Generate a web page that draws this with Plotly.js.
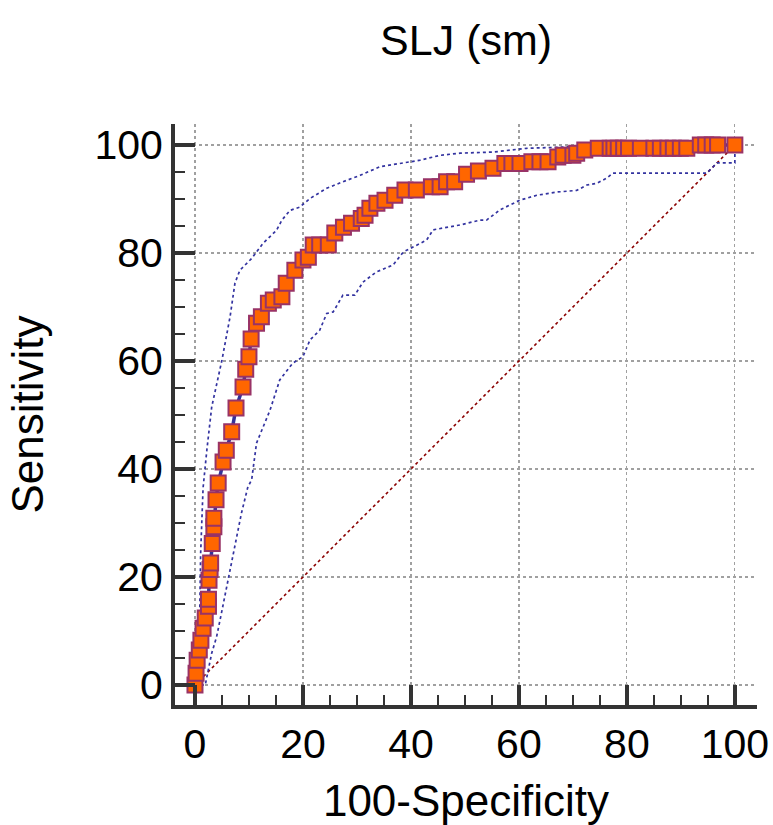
<!DOCTYPE html>
<html>
<head>
<meta charset="utf-8">
<script src="https://cdn.plot.ly/plotly-3.0.1.min.js"></script>
<style>html,body{margin:0;padding:0;background:#fff;}#chart{width:773px;height:825px;}</style>
</head>
<body>
<div id="chart"></div>
<script>
// ROC curve points (100-Specificity, Sensitivity)
const rocX = [0,0.2,0.4,0.8,1.1,1.5,1.9,2.5,2.5,2.6,2.8,2.9,3.2,3.5,3.5,3.9,4.3,5.2,5.8,6.8,7.6,8.9,9.4,10.0,10.4,11.4,12.3,13.6,14.5,16.1,16.9,18.5,20,21,21.9,23.1,24.7,25.9,27.5,29,30.8,31.5,32.4,33.7,35.2,37,38.9,41,43.8,45.4,46.6,48.1,50.3,52.5,55.2,57.4,58.7,60.2,62.4,63.9,65.4,67.2,68.2,70,70.7,72.2,74.7,76.9,77.6,78.4,79.4,80.3,82.5,85,86.2,87.6,88.6,89.9,91.1,93.6,94.6,95.8,96.8,100];
const rocY = [0,2.2,4.6,6.5,8.3,10.5,12.4,14.6,15.9,19.4,21.4,22.6,26.2,29.3,30.9,34.3,37.4,41.3,43.5,46.9,51.3,55.2,58.5,60.8,64.1,67.0,68.2,70.7,71.3,71.9,74.4,76.8,78.7,79.2,81.5,81.5,81.5,83.7,84.8,85.5,86.4,87,88.3,89.2,89.8,90.7,91.7,91.7,92.3,92.3,93.2,93.2,94.6,95.2,95.7,96.6,96.6,96.6,96.9,96.9,96.9,97.8,98.1,98.1,98.5,99.1,99.4,99.4,99.4,99.4,99.4,99.4,99.4,99.4,99.4,99.4,99.4,99.4,99.4,100,100,100,100,100];

// Upper 95% confidence bound
const upX = [0,0.9,1.05,1.5,2.2,3.1,5,6.5,7.4,8.3,10.5,12.6,15.1,16.1,17.6,19.4,21.3,24.4,27.4,30.6,34.3,38,41.7,45.4,49.1,55.2,61.4,67.6,75,100];
const upY = [0,14.4,24.4,36.5,43.5,51.5,60.2,68.2,74.4,76.8,79,81.8,84.2,86.1,87.9,88.5,90.1,92,93.2,94.4,96,96.6,97.2,98.1,98.5,98.7,99.4,99.6,100,100];

// Lower 95% confidence bound
const loX = [0,1.9,3.1,4,4.9,6.1,7.1,8.6,9.8,10.5,11.4,13.9,15.7,18.1,20,21.3,23.1,24.4,25.6,27.4,29.6,31.1,33.6,36.7,38.6,40.4,42.9,44.1,49.1,52.8,54,56.5,60.2,63.3,67,70.7,72.6,74.4,76.3,77.4,94.8,96.7,100,100];
const loY = [0,0,5.9,8.9,13.3,19.4,24.4,31.8,36.7,38,44.8,50.9,56.5,59.6,60.8,63.9,65.7,68.8,69.1,72.2,72.2,74.6,76.5,77.8,80.2,81.1,82.4,84.3,85.2,86.1,86.1,88,89.8,90.7,91.3,91.6,92.6,92.9,93.9,94.8,94.8,96.7,96.7,100];

// Reference diagonal
const diagX = [0,100];
const diagY = [0,100];

const tickVals = [0,20,40,60,80,100];
const tickText = ["0","20","40","60","80","100"];

const FONT = 'Liberation Sans, Arial, sans-serif';

const traces = [
  {x: diagX, y: diagY, mode:'lines', line:{color:'#8B0000', width:1.6, dash:'dot'}, hoverinfo:'skip'},
  {x: upX, y: upY, mode:'lines', line:{color:'#3333A0', width:1.7, dash:'dot'}, hoverinfo:'skip'},
  {x: loX, y: loY, mode:'lines', line:{color:'#3333A0', width:1.7, dash:'dot'}, hoverinfo:'skip'},
  {x: rocX, y: rocY, mode:'lines+markers', line:{color:'#333399', width:3.5},
   marker:{symbol:'square', size:15, color:'#FF6600', line:{color:'#993366', width:2}}}
];

const axisCommon = {
  tickvals: tickVals, ticktext: tickText,
  showline: true, linewidth: 4, linecolor: '#333333',
  ticks: 'inside', ticklen: 20, tickwidth: 4, tickcolor: '#333333',
  minor: {dtick: 5, ticks: 'inside', ticklen: 10, tickwidth: 2, tickcolor: '#333333', showgrid: false},
  showgrid: true, gridcolor: '#a0a0a0', gridwidth: 1.2, griddash: 'dot',
  zeroline: false,
  tickfont: {family: FONT, size: 41, color: '#000'},
  fixedrange: true
};

const layout = {
  width: 773, height: 825,
  margin: {l: 175, r: 16, t: 124, b: 120},
  paper_bgcolor: '#fff', plot_bgcolor: '#fff',
  showlegend: false,
  title: {text: 'SLJ (sm)', x: 0.603, xanchor: 'center', y: 0.951, yanchor: 'middle',
          font: {family: FONT, size: 43, color: '#000'}},
  xaxis: Object.assign({}, axisCommon, {range: [-3.7, 104.1],
    title: {text: '100-Specificity', standoff: 20, font: {family: FONT, size: 44, color: '#000'}}}),
  yaxis: Object.assign({}, axisCommon, {range: [-3.7, 103.9],
    title: {text: 'Sensitivity', standoff: 38, font: {family: FONT, size: 44, color: '#000'}}})
};

Plotly.newPlot('chart', traces, layout, {displayModeBar: false, staticPlot: true});
</script>
</body>
</html>
